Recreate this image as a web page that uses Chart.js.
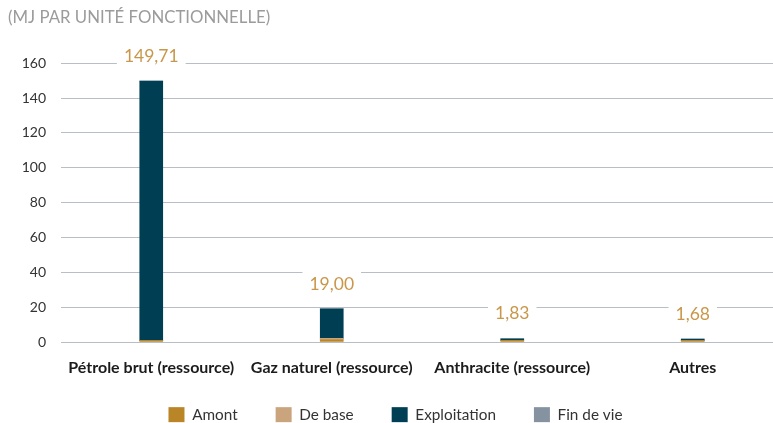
<!DOCTYPE html>
<html>
<head>
<meta charset="utf-8">
<script src="https://cdn.jsdelivr.net/npm/chart.js@4/dist/chart.umd.min.js"></script>
<style>
  html, body { margin: 0; padding: 0; background: #fff; overflow: hidden; }
  #wrap { width: 773px; height: 423px; overflow: hidden; position: relative; }
  canvas { position: absolute; left: 0; top: 0; }
</style>
</head>
<body>
<div id="wrap">
  <canvas id="chart" width="783" height="423"></canvas>
</div>
<script>
// data
const categories = ['Pétrole brut (ressource)', 'Gaz naturel (ressource)', 'Anthracite (ressource)', 'Autres'];
const amont = [0.8, 1.2, 0.9, 0.8];
const deBase = [0, 0.9, 0, 0];
const exploitation = [148.91, 16.9, 0.93, 0.88];
const finDeVie = [0, 0, 0, 0];
const yTicks = [0, 20, 40, 60, 80, 100, 120, 140, 160];

const FONT = 'Lato, "Noto Sans", sans-serif';
const GOLD_TEXT = '#c9974a';

// total label with white box above each stack
const totalsPlugin = {
  id: 'totals',
  afterDatasetsDraw(chart) {
    const { ctx, scales: { x, y } } = chart;
    ctx.save();
    ctx.font = '17.5px ' + FONT;
    ctx.textAlign = 'center';
    ctx.textBaseline = 'middle';
    categories.forEach((c, i) => {
      let total = 0;
      chart.data.datasets.forEach(ds => { total += ds.data[i]; });
      const txt = total.toFixed(2).replace('.', ',');
      const px = x.getPixelForValue(i);
      const py = y.getPixelForValue(total) - 26;
      const w = ctx.measureText(txt).width + 14;
      ctx.fillStyle = '#fff';
      ctx.fillRect(px - w / 2, py - 12, w, 24);
      ctx.fillStyle = GOLD_TEXT;
      ctx.fillText(txt, px, py + 1);
    });
    ctx.restore();
  }
};

// nudge the legend into place
const legendShift = {
  id: 'legendShift',
  afterLayout(chart) {
    const lg = chart.legend;
    lg.top -= 7;
    lg.bottom = chart.height;
  }
};

new Chart(document.getElementById('chart'), {
  type: 'bar',
  data: {
    labels: categories,
    datasets: [
      { label: 'Amont', data: amont, backgroundColor: '#b98526' },
      { label: 'De base', data: deBase, backgroundColor: '#caa47d' },
      { label: 'Exploitation', data: exploitation, backgroundColor: '#003f53' },
      { label: 'Fin de vie', data: finDeVie, backgroundColor: '#8593a1' }
    ]
  },
  options: {
    responsive: false,
    animation: false,
    devicePixelRatio: 1,
    layout: { padding: { left: 8, right: 0, top: 0, bottom: 0 } },
    datasets: { bar: { barThickness: 23 } },
    scales: {
      x: {
        stacked: true,
        afterFit(axis) { axis.height = 34; },
        grid: { display: false, drawTicks: false },
        border: { display: false },
        ticks: {
          padding: 16,
          color: '#1b1b1b',
          font: { family: FONT, size: 16, weight: 'bold' },
          maxRotation: 0
        }
      },
      y: {
        stacked: true,
        min: 0,
        max: 160,
        afterFit(axis) { axis.width = 53; },
        afterBuildTicks(axis) { axis.ticks = yTicks.map(v => ({ value: v })); },
        grid: { color: '#b7bec8', lineWidth: 1, drawTicks: false },
        border: { display: false },
        ticks: {
          padding: 15,
          color: '#333',
          font: { family: FONT, size: 14 }
        }
      }
    },
    plugins: {
      title: {
        display: true,
        text: '(MJ PAR UNITÉ FONCTIONNELLE)',
        align: 'start',
        color: '#9b9b9b',
        font: { family: FONT, size: 16.8, weight: 'normal' },
        padding: { top: 8, bottom: 35 }
      },
      legend: {
        position: 'bottom',
        maxHeight: 47,
        labels: {
          boxWidth: 16,
          boxHeight: 15,
          padding: 38,
          color: '#333',
          font: { family: FONT, size: 15.3 }
        }
      },
      tooltip: { enabled: false }
    }
  },
  plugins: [totalsPlugin, legendShift]
});
</script>
</body>
</html>
